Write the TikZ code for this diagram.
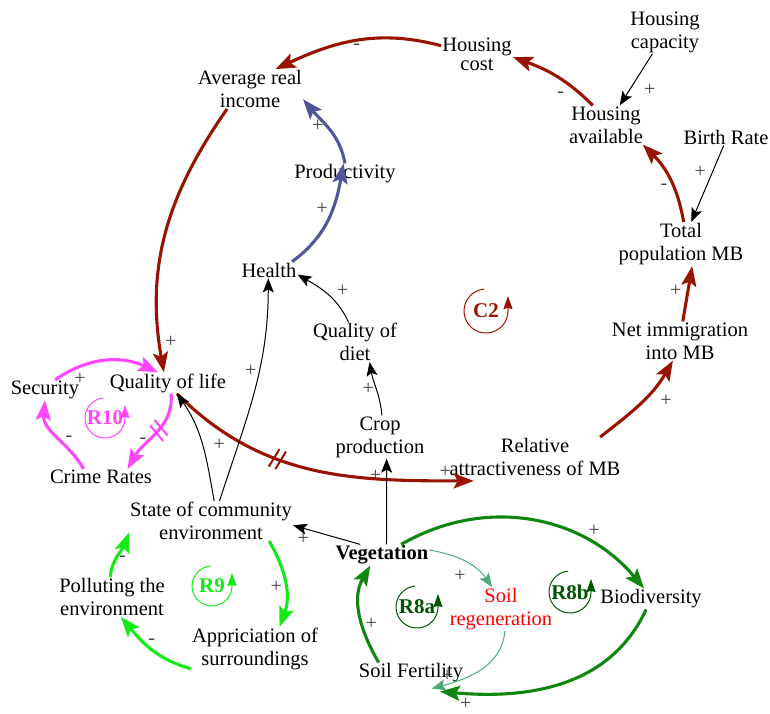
\documentclass[tikz,border=0pt]{standalone}
\usepackage{fontspec}
\setmainfont{Liberation Serif}
\usetikzlibrary{arrows.meta, decorations.markings, positioning}

\definecolor{loopred}{RGB}{153,20,0}
\definecolor{loopblue}{RGB}{80,86,152}
\definecolor{looppink}{RGB}{255,70,255}
\definecolor{looplime}{RGB}{20,235,20}
\definecolor{loopgreen}{RGB}{15,135,15}
\definecolor{loopteal}{RGB}{75,170,115}
\definecolor{loopdark}{RGB}{0,85,0}

\tikzset{
  var/.style={align=center, inner sep=1pt, font=\fontsize{20.5}{23}\selectfont},
  pol/.style={font=\fontsize{20}{20}\selectfont, text=black!75, inner sep=2pt},
  thinlink/.style={color=#1, line width=1pt, -{Stealth[length=14pt,width=11pt,inset=3pt]}},
  thinlink/.default=black,
  thicklink/.style={color=#1, line width=3.1pt, -{Stealth[length=20pt,width=15pt,inset=4pt]}},
  loopid/.style={font=\fontsize{21}{21}\selectfont\bfseries, text=#1},
  looparc/.style={color=#1, line width=1pt, -{Stealth[length=13pt,width=9pt,inset=1pt]}},
  delay/.style 2 args={postaction={decorate, decoration={markings, mark=at position #1 with
    {\draw[#2, line width=2pt, arrows=-] (-6pt,-10pt) -- (-2pt,10pt) (1pt,-10pt) -- (5pt,10pt);}}}},
}

\begin{document}
\begin{tikzpicture}[x=1pt, y=-1pt]
\useasboundingbox (0,0) rectangle (770,713);

% variables
\node[var] (hcap) at (665,32) {Housing\\capacity};
\node[var, font=\fontsize{20.5}{19}\selectfont] (hcost) at (477,54) {Housing\\cost};
\node[var] (ari) at (250,89) {Average real\\income};
\node[var] (hav) at (606,125) {Housing\\available};
\node[var] (br) at (726,137) {Birth Rate};
\node[var] (prod) at (345,174) {Productivity};
\node[var] (tp) at (681,244) {Total\\population MB};
\node[var] (health) at (269,270) {Health};
\node[var] (qod) at (355,342) {Quality of\\diet};
\node[var] (ni) at (680,341) {Net immigration\\into MB};
\node[var] (sec) at (45,390) {Security};
\node[var] (qol) at (168,383) {Quality of life};
\node[var] (crime) at (101,477) {Crime Rates};
\node[var] (crop) at (380,437) {Crop\\production};
\node[var] (ra) at (535,457) {Relative\\attractiveness of MB};
\node[var] (state) at (211,521) {State of community\\environment};
\node[var, font=\fontsize{20.5}{23}\selectfont\bfseries] (veg) at (382,555) {Vegetation};
\node[var] (poll) at (112,597) {Polluting the\\environment};
\node[var] (app) at (255,649) {Appriciation of\\surroundings};
\node[var, text=red] (soilreg) at (501,609) {Soil\\regeneration};
\node[var] (bio) at (651,599) {Biodiversity};
\node[var] (sf) at (411,673) {Soil Fertility};

% loop identifiers
\node[loopid=loopred] (c2) at (486,311) {C2};
\node[loopid=looppink] (r10) at (105,418) {R10};
\node[loopid=looplime] (r9) at (212,586) {R9};
\node[loopid=loopdark] (r8a) at (417,607) {R8a};
\node[loopid=loopdark] (r8b) at (570,592) {R8b};
\draw[looparc=loopred] ([shift={(95:22pt)}]c2.center) arc[start angle=95, end angle=360, radius=22pt] -- ++(0pt,15pt);
\draw[looparc=looppink] ([shift={(95:20pt)}]r10.center) arc[start angle=95, end angle=360, radius=20pt] -- ++(0pt,13pt);
\draw[looparc=looplime] ([shift={(95:20pt)}]r9.center) arc[start angle=95, end angle=360, radius=20pt] -- ++(0pt,13pt);
\draw[looparc=loopdark] ([shift={(95:21pt)}]r8a.center) arc[start angle=95, end angle=360, radius=21pt] -- ++(0pt,13pt);
\draw[looparc=loopdark] ([shift={(95:21pt)}]r8b.center) arc[start angle=95, end angle=360, radius=21pt] -- ++(0pt,13pt);

% C2 housing / migration loop
\path[thicklink=loopred]
  (hcost.167) edge[out=165, in=25] node[pol, below] {-} (ari.38)
  (hav.124) edge[out=135, in=-20] node[pol, pos=0.15, left=14pt] {-} (hcost.-5)
  (tp.83) edge[out=100, in=-45] node[pol, pos=0.4, left=3pt] {-} (hav.-28)
  (ni.82) edge node[pol, pos=0.55, left=3pt] {+} (tp.-63)
  (ra.17) edge[out=38, in=-120] node[pol, pos=0.68, below right=2pt and 4pt] {+} (ni.-110)
  (ari.-139) edge[out=-125, in=100] node[pol, pos=0.9, right=2pt] {+} (qol.111)
  (qol.-50) edge[out=-45, in=180, delay={0.38}{loopred}] node[pol, pos=0.92, above] {+} ([yshift=-4pt]ra.-162);

\path[thicklink=loopblue]
  (health.20) edge[out=36, in=-100] node[pol, pos=0.6, left=1pt] {+} (prod.98)
  (prod.90) edge[out=100, in=-50] node[pol, pos=0.55, left] {+} (ari.-11);

\path[thinlink]
  (hcap.-120) edge node[pol, pos=0.7, right=12pt] {+} (hav.55)
  (br.-105) edge node[pol, pos=0.35, left=4pt] {+} (tp.65)
  (qod.108) edge[out=115, in=-30] node[pol, pos=0.4, above right=0pt and 2pt] {+} (health.-9)
  (crop.85) edge[out=95, in=-80] node[pol, left] {+} (qod.-54)
  (veg.67) edge node[pol, pos=0.8, left=3pt] {+} (crop.-73)
  (veg.154) edge node[pol, pos=0.85, below=3pt] {+} (state.-3)
  (state.81) edge[out=100, in=-55] node[pol, right=9pt] {+} (qol.-50)
  (state.67) edge[out=72, in=-90] node[pol, pos=0.6, left] {+} (health.-95);

% R10
\path[thicklink=looppink]
  (qol.-74) edge[out=-85, in=60, delay={0.45}{looppink}] node[pol, pos=0.62, left] {-} (crime.17)
  (crime.155) edge[out=120, in=-95] node[pol, pos=0.45, right=2pt] {-} (sec.-90)
  (sec.45) edge[out=35, in=155] node[pol, pos=0.25, below=3pt] {+} (qol.133);

% R9
\path[thicklink=looplime]
  (state.-19) edge[out=-60, in=70] node[pol, pos=0.55, left] {+} (app.42)
  (app.-163) edge[out=165, in=-50] node[pol, above=1pt] {-} (poll.-66)
  (poll.95) edge[out=85, in=-110] node[pol, pos=0.4, right] {-} (state.-172);

% R8a / R8b
\path[thicklink=loopgreen]
  (veg.29) edge[out=30, in=130] node[pol, pos=0.72, above right] {+} (bio.123)
  (bio.-115) edge[out=-115, in=-5] node[pol, pos=0.9, below=1pt] {+} ([yshift=-8pt]sf.-20)
  (sf.162) edge[out=120, in=-120] node[pol, pos=0.4, right] {+} (veg.-138);

\path[thinlink=loopteal]
  (veg.6) edge[out=-10, in=125] node[pol, pos=0.55, below left=4pt and 0pt] {+} (soilreg.112)
  (soilreg.-80) edge[out=-95, in=15] node[pol, pos=0.85, above] {+} ([yshift=-5pt]sf.-27);

\end{tikzpicture}
\end{document}
